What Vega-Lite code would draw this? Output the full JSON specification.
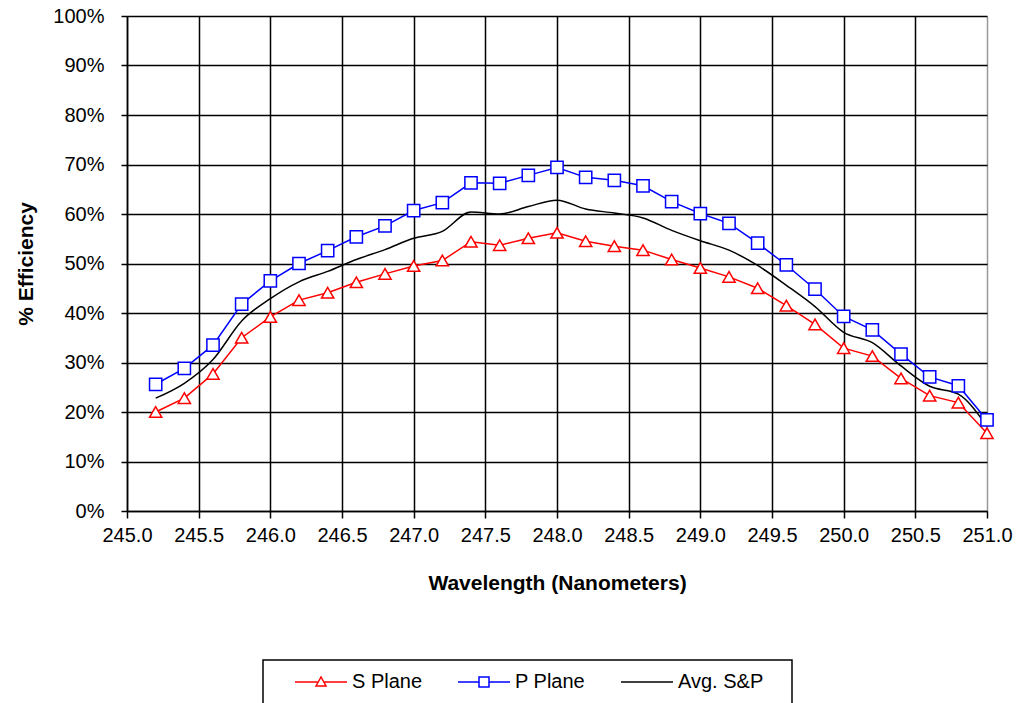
{
  "$schema": "https://vega.github.io/schema/vega-lite/v6.json",
  "width": 860,
  "height": 495,
  "autosize": "none",
  "padding": {"left": 127, "top": 16, "right": 31, "bottom": 192},
  "background": "white",
  "config": {
    "font": "Liberation Sans",
    "view": {"stroke": null},
    "axis": {
      "grid": true, "gridColor": "black", "gridWidth": 1.5, "gridOpacity": 1,
      "domainColor": "black", "domainWidth": 1.5,
      "tickColor": "black", "tickWidth": 1.5,
      "labelFont": "Liberation Sans", "labelFontSize": 20, "labelColor": "black",
      "titleFont": "Liberation Sans", "titleFontSize": 21, "titleFontWeight": "bold", "titleColor": "black"
    }
  },
  "data": {"values": [
    {"wl": 245.2, "series": "S Plane", "v": 20.0},
    {"wl": 245.4, "series": "S Plane", "v": 22.8},
    {"wl": 245.6, "series": "S Plane", "v": 27.7},
    {"wl": 245.8, "series": "S Plane", "v": 35.0},
    {"wl": 246.0, "series": "S Plane", "v": 39.2},
    {"wl": 246.2, "series": "S Plane", "v": 42.6},
    {"wl": 246.4, "series": "S Plane", "v": 44.1},
    {"wl": 246.6, "series": "S Plane", "v": 46.2},
    {"wl": 246.8, "series": "S Plane", "v": 47.9},
    {"wl": 247.0, "series": "S Plane", "v": 49.5},
    {"wl": 247.2, "series": "S Plane", "v": 50.6},
    {"wl": 247.4, "series": "S Plane", "v": 54.4},
    {"wl": 247.6, "series": "S Plane", "v": 53.7},
    {"wl": 247.8, "series": "S Plane", "v": 55.1},
    {"wl": 248.0, "series": "S Plane", "v": 56.2},
    {"wl": 248.2, "series": "S Plane", "v": 54.5},
    {"wl": 248.4, "series": "S Plane", "v": 53.5},
    {"wl": 248.6, "series": "S Plane", "v": 52.7},
    {"wl": 248.8, "series": "S Plane", "v": 50.8},
    {"wl": 249.0, "series": "S Plane", "v": 49.1},
    {"wl": 249.2, "series": "S Plane", "v": 47.3},
    {"wl": 249.4, "series": "S Plane", "v": 45.0},
    {"wl": 249.6, "series": "S Plane", "v": 41.5},
    {"wl": 249.8, "series": "S Plane", "v": 37.7},
    {"wl": 250.0, "series": "S Plane", "v": 32.9},
    {"wl": 250.2, "series": "S Plane", "v": 31.3},
    {"wl": 250.4, "series": "S Plane", "v": 26.8},
    {"wl": 250.6, "series": "S Plane", "v": 23.3},
    {"wl": 250.8, "series": "S Plane", "v": 21.9},
    {"wl": 251.0, "series": "S Plane", "v": 15.7},
    {"wl": 245.2, "series": "P Plane", "v": 25.6},
    {"wl": 245.4, "series": "P Plane", "v": 28.8},
    {"wl": 245.6, "series": "P Plane", "v": 33.5},
    {"wl": 245.8, "series": "P Plane", "v": 41.8},
    {"wl": 246.0, "series": "P Plane", "v": 46.5},
    {"wl": 246.2, "series": "P Plane", "v": 50.0},
    {"wl": 246.4, "series": "P Plane", "v": 52.6},
    {"wl": 246.6, "series": "P Plane", "v": 55.4},
    {"wl": 246.8, "series": "P Plane", "v": 57.6},
    {"wl": 247.0, "series": "P Plane", "v": 60.7},
    {"wl": 247.2, "series": "P Plane", "v": 62.3},
    {"wl": 247.4, "series": "P Plane", "v": 66.3},
    {"wl": 247.6, "series": "P Plane", "v": 66.2},
    {"wl": 247.8, "series": "P Plane", "v": 67.8},
    {"wl": 248.0, "series": "P Plane", "v": 69.4},
    {"wl": 248.2, "series": "P Plane", "v": 67.4},
    {"wl": 248.4, "series": "P Plane", "v": 66.8},
    {"wl": 248.6, "series": "P Plane", "v": 65.7},
    {"wl": 248.8, "series": "P Plane", "v": 62.5},
    {"wl": 249.0, "series": "P Plane", "v": 60.1},
    {"wl": 249.2, "series": "P Plane", "v": 58.1},
    {"wl": 249.4, "series": "P Plane", "v": 54.1},
    {"wl": 249.6, "series": "P Plane", "v": 49.7},
    {"wl": 249.8, "series": "P Plane", "v": 44.8},
    {"wl": 250.0, "series": "P Plane", "v": 39.3},
    {"wl": 250.2, "series": "P Plane", "v": 36.6},
    {"wl": 250.4, "series": "P Plane", "v": 31.7},
    {"wl": 250.6, "series": "P Plane", "v": 27.1},
    {"wl": 250.8, "series": "P Plane", "v": 25.3},
    {"wl": 251.0, "series": "P Plane", "v": 18.4},
    {"wl": 245.2, "series": "Avg. S&P", "v": 22.8},
    {"wl": 245.4, "series": "Avg. S&P", "v": 25.8},
    {"wl": 245.6, "series": "Avg. S&P", "v": 30.6},
    {"wl": 245.8, "series": "Avg. S&P", "v": 38.4},
    {"wl": 246.0, "series": "Avg. S&P", "v": 42.9},
    {"wl": 246.2, "series": "Avg. S&P", "v": 46.3},
    {"wl": 246.4, "series": "Avg. S&P", "v": 48.4},
    {"wl": 246.6, "series": "Avg. S&P", "v": 50.8},
    {"wl": 246.8, "series": "Avg. S&P", "v": 52.8},
    {"wl": 247.0, "series": "Avg. S&P", "v": 55.1},
    {"wl": 247.2, "series": "Avg. S&P", "v": 56.5},
    {"wl": 247.4, "series": "Avg. S&P", "v": 60.4},
    {"wl": 247.6, "series": "Avg. S&P", "v": 60.0},
    {"wl": 247.8, "series": "Avg. S&P", "v": 61.5},
    {"wl": 248.0, "series": "Avg. S&P", "v": 62.8},
    {"wl": 248.2, "series": "Avg. S&P", "v": 61.0},
    {"wl": 248.4, "series": "Avg. S&P", "v": 60.2},
    {"wl": 248.6, "series": "Avg. S&P", "v": 59.2},
    {"wl": 248.8, "series": "Avg. S&P", "v": 56.7},
    {"wl": 249.0, "series": "Avg. S&P", "v": 54.6},
    {"wl": 249.2, "series": "Avg. S&P", "v": 52.7},
    {"wl": 249.4, "series": "Avg. S&P", "v": 49.6},
    {"wl": 249.6, "series": "Avg. S&P", "v": 45.6},
    {"wl": 249.8, "series": "Avg. S&P", "v": 41.3},
    {"wl": 250.0, "series": "Avg. S&P", "v": 36.1},
    {"wl": 250.2, "series": "Avg. S&P", "v": 34.0},
    {"wl": 250.4, "series": "Avg. S&P", "v": 29.3},
    {"wl": 250.6, "series": "Avg. S&P", "v": 25.2},
    {"wl": 250.8, "series": "Avg. S&P", "v": 23.6},
    {"wl": 251.0, "series": "Avg. S&P", "v": 17.1}
  ]},
  "encoding": {
    "x": {
      "field": "wl", "type": "quantitative",
      "scale": {"domain": [245, 251], "zero": false, "nice": false},
      "axis": {
        "values": [245, 245.5, 246, 246.5, 247, 247.5, 248, 248.5, 249, 249.5, 250, 250.5, 251],
        "format": ".1f", "title": "Wavelength (Nanometers)",
        "tickSize": 7, "labelPadding": 7, "titlePadding": 27, "labelFlush": false, "labelOverlap": false,
        "gridColor": {"condition": {"test": "datum.value === 251", "value": "#999999"}, "value": "black"}
      }
    },
    "y": {
      "field": "v", "type": "quantitative",
      "scale": {"domain": [0, 100], "nice": false},
      "axis": {
        "values": [0, 10, 20, 30, 40, 50, 60, 70, 80, 90, 100],
        "labelExpr": "datum.value + '%'", "title": "% Efficiency",
        "tickSize": 6, "labelPadding": 17, "titlePadding": 16
      }
    },
    "color": {
      "field": "series", "type": "nominal",
      "scale": {"domain": ["S Plane", "P Plane", "Avg. S&P"], "range": ["#ff0000", "#0000ff", "#000000"]},
      "legend": {
        "orient": "none", "legendX": 136, "legendY": 644, "direction": "horizontal",
        "title": "\u00a0", "titleOrient": "left", "titlePadding": 16, "titleFontSize": 20,
        "padding": 12, "strokeColor": "black", "fillColor": "white",
        "labelFont": "Liberation Sans", "labelFontSize": 20, "labelColor": "black", "labelFontWeight": "normal",
        "labelExpr": "indexof(datum.label, 'Avg') >= 0 ? datum.label + '\u00a0\u00a0\u00a0\u200b' : datum.label",
        "symbolSize": 100, "symbolOffset": 20, "labelOffset": 21, "columnPadding": 31, "symbolStrokeWidth": 1.5,
        "encode": {
          "symbols": {"update": {
            "shape": {"signal": "datum.value === 'S Plane' ? 'M-5.2,0H-0.56M0.56,0H5.2M-1,0.8L0,-1L1,0.8Z' : datum.value === 'P Plane' ? 'M-5.2,0H-1M1,0H5.2M-1,-1H1V1H-1Z' : 'M-5.2,0H5.2'"},
            "fill": {"value": "white"},
            "stroke": {"scale": "color", "field": "value"},
            "strokeWidth": {"value": 1.5},
            "opacity": {"value": 1}
          }},
          "legend": {"update": {"strokeWidth": {"value": 1.5}}}
        }
      }
    }
  },
  "layer": [
    {
      "transform": [{"filter": "datum.series !== 'Avg. S&P'"}],
      "mark": {"type": "line", "strokeWidth": 1.5}
    },
    {
      "transform": [{"filter": "datum.series === 'Avg. S&P'"}],
      "mark": {"type": "line", "strokeWidth": 1.5, "interpolate": "monotone"}
    },
    {
      "transform": [{"filter": "datum.series !== 'Avg. S&P'"}],
      "mark": {"type": "point", "filled": false, "fill": "white", "fillOpacity": 1, "opacity": 1, "strokeWidth": 1.5, "size": 150},
      "encoding": {
        "shape": {
          "field": "series", "type": "nominal",
          "scale": {"domain": ["S Plane", "P Plane"], "range": ["triangle-up", "square"]},
          "legend": null
        }
      }
    }
  ]
}
